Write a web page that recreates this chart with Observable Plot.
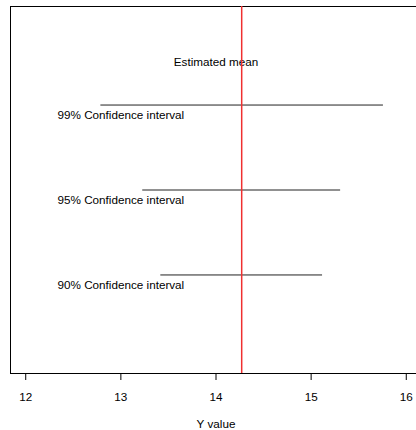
<!DOCTYPE html>
<html>
<head>
<meta charset="utf-8">
<script src="https://cdn.jsdelivr.net/npm/d3@7"></script>
<script src="https://cdn.jsdelivr.net/npm/@observablehq/plot@0.6"></script>
<style>
  html, body { margin: 0; padding: 0; background: #fff; overflow: hidden; }
  #chart svg { display: block; }
</style>
</head>
<body>
<div id="chart"></div>
<script>
const labels = ["99% Confidence interval", "95% Confidence interval", "90% Confidence interval"];
const rows = [3, 2, 1];
const lower = [12.79, 13.23, 13.42];
const upper = [15.76, 15.31, 15.12];
const estimatedMean = 14.27;
const meanLabel = "Estimated mean";
const xTicks = [12, 13, 14, 15, 16];

const intervals = labels.map((label, i) => ({label, row: rows[i], lo: lower[i], hi: upper[i]}));

const chart = Plot.plot({
  width: 416,
  height: 430,
  marginLeft: 10,
  marginRight: -5,
  marginTop: 6,
  marginBottom: 57,
  style: {fontFamily: "'Liberation Sans', Arial, Helvetica, sans-serif", fontSize: "11.7px", color: "black", background: "white"},
  x: {domain: [11.84, 16.16]},
  y: {domain: [-0.16, 4.16], axis: null},
  marks: [
    Plot.frame({stroke: "black"}),
    Plot.axisX({ticks: xTicks, tickFormat: d => String(d), tickSize: 7, tickPadding: 12, fontSize: 11.7, label: "Y value", labelAnchor: "center", labelArrow: "none", labelOffset: 54}),
    Plot.ruleY(intervals, {y: "row", x1: "lo", x2: "hi", stroke: "#222", strokeWidth: 1}),
    Plot.text(intervals, {x: 13, y: d => d.row - 0.12, text: "label", textAnchor: "middle", fill: "black", fontSize: 11.7}),
    Plot.text([meanLabel], {x: 14, y: 3.5, text: d => d, textAnchor: "middle", fill: "black", fontSize: 11.7}),
    Plot.ruleX([estimatedMean], {x: d => d, stroke: "#f03030", strokeWidth: 1.5})
  ]
});
document.getElementById("chart").appendChild(chart);
</script>
</body>
</html>
